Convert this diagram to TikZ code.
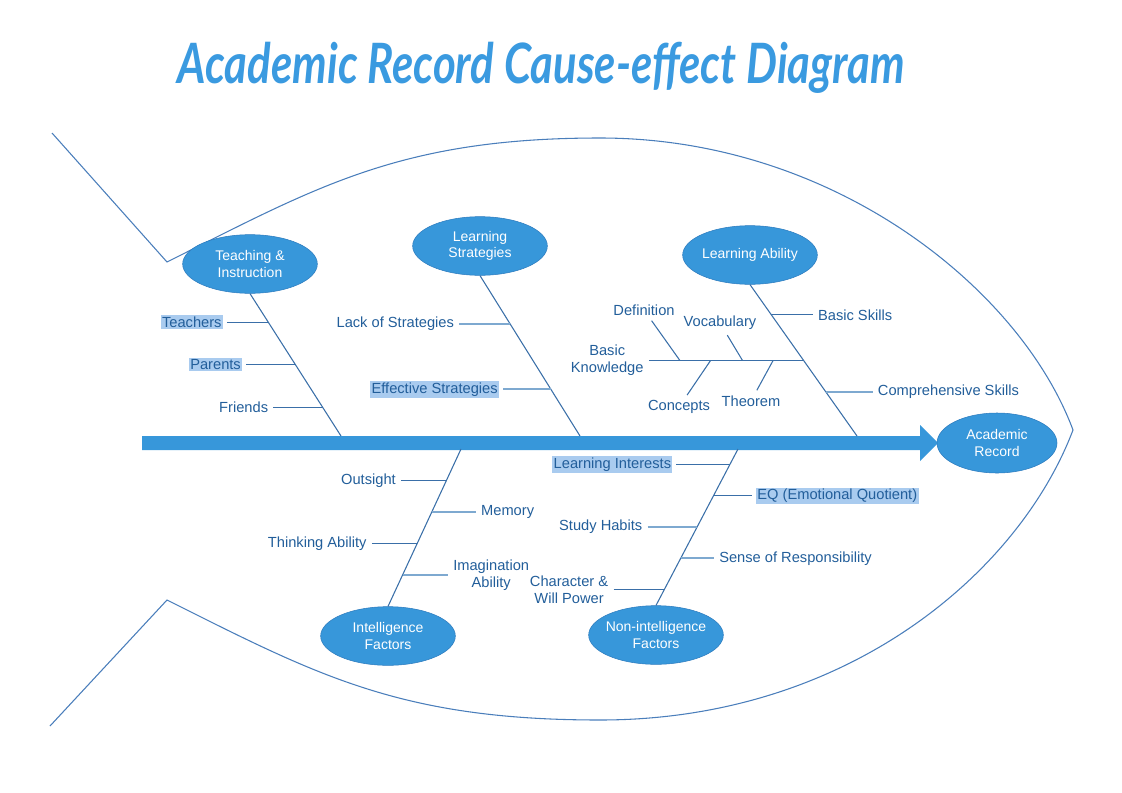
\documentclass[tikz,border=0pt]{standalone}
\usepackage{graphicx}
\usepackage{fontspec}
\setmainfont{Liberation Sans}
\newfontfamily\titlefont{Lato}
\usetikzlibrary{positioning,shapes.geometric}

\definecolor{ellfill}{HTML}{3797DA}
\definecolor{ellborder}{HTML}{2C7BBE}
\definecolor{fishline}{HTML}{4A7EBB}
\definecolor{boneline}{HTML}{3A6FA8}
\definecolor{paleline}{HTML}{7EA9D0}
\definecolor{labeltext}{HTML}{225E9A}
\definecolor{marker}{HTML}{A9CBEF}
\definecolor{titleblue}{HTML}{3A9AE0}

\newcommand\labelsize{\fontsize{11}{13}\selectfont}
\newcommand\catsize{\fontsize{10.5}{12.5}\selectfont}

\tikzset{
  category/.style={ellipse, draw=ellborder, fill=ellfill, text=white, font=\catsize,
    align=center, minimum width=101pt, minimum height=44pt, inner xsep=-2pt, inner ysep=0pt},
  cause/.style={text=labeltext, font=\labelsize, inner sep=1pt, outer sep=3pt, align=center},
  marked/.style={cause, fill=marker},
  bone/.style={draw=boneline, line width=0.8pt},
  twig/.style={draw=boneline, line width=0.8pt},
  pale twig/.style={draw=paleline, line width=1.5pt},
}

\begin{document}
\begin{tikzpicture}[x=0.75pt, y=-0.75pt]
  \useasboundingbox (0,0) rectangle (1122,793);

  % title
  \node[anchor=base, text=titleblue] (title) at (541,83)
    {\titlefont\bfseries\itshape\resizebox{545pt}{31pt}{Academic Record Cause-effect Diagram}};

  % fish outline: tail and body
  \draw[fishline, line width=0.8pt] (52,133) -- (167,262)
    .. controls (317,187) and (400,138) .. (600,138)
    .. controls (835,138) and (1021,290) .. (1073,430)
    .. controls (1020,570) and (850,720) .. (600,720)
    .. controls (400,720) and (317,675) .. (167,600) -- (50,726);

  % spine with head
  \fill[ellfill] (142,436) -- (920,436) -- (920,425) -- (938,443) -- (920,461)
    -- (920,450) -- (142,450) -- cycle;
  \node[category, minimum width=90pt, minimum height=45pt] (record) at (997,443) {Academic\\Record};

  % ends of the bones on the spine
  \coordinate (teach_end) at (341,436);
  \coordinate (strat_end) at (580,436);
  \coordinate (ability_end) at (857,436);
  \coordinate (intel_end) at (461,449);
  \coordinate (nonint_end) at (738,449);

  % categories
  \node[category] (teach) at (250,264) {Teaching \&\\Instruction};
  \node[category] (strat) at (480,246) {Learning\\Strategies};
  \node[category] (ability) at (750,255) {Learning Ability};
  \node[category] (intel) at (388,636) {Intelligence\\Factors};
  \node[category] (nonint) at (656,635) {Non-intelligence\\Factors};

  % bones
  \draw[bone] (teach.south) -- coordinate[pos=0.2] (teach_1) coordinate[pos=0.5] (teach_2)
    coordinate[pos=0.8] (teach_3) (teach_end);
  \draw[bone] (strat.south) -- coordinate[pos=0.3] (strat_1) coordinate[pos=0.71] (strat_2) (strat_end);
  \draw[bone] (ability.south) -- coordinate[pos=0.2] (ability_1) coordinate[pos=0.5] (ability_2)
    coordinate[pos=0.71] (ability_3) (ability_end);
  \draw[bone] (intel.north) -- coordinate[pos=0.2] (intel_1) coordinate[pos=0.4] (intel_2)
    coordinate[pos=0.6] (intel_3) coordinate[pos=0.8] (intel_4) (intel_end);
  \draw[bone] (nonint.north) -- coordinate[pos=0.1] (nonint_1) coordinate[pos=0.3] (nonint_2)
    coordinate[pos=0.5] (nonint_3) coordinate[pos=0.7] (nonint_4) coordinate[pos=0.9] (nonint_5) (nonint_end);

  % teaching & instruction
  \node[marked, left=31pt of teach_1] (teachers) {Teachers};
  \node[marked, left=37pt of teach_2] (parents) {Parents};
  \node[cause, left=37pt of teach_3] (friends) {Friends};
  \draw[twig] (teachers) -- (teach_1);
  \draw[twig] (parents) -- (teach_2);
  \draw[twig] (friends) -- (teach_3);

  % learning strategies
  \node[cause, left=38pt of strat_1] (lack) {Lack of Strategies};
  \node[marked, left=36pt of strat_2] (effective) {Effective Strategies};
  \draw[pale twig] (lack) -- (strat_1);
  \draw[pale twig] (effective) -- (strat_2);

  % learning ability
  \node[cause, right=31pt of ability_1] (basic_skills) {Basic Skills};
  \node[cause, left=116pt of ability_2] (knowledge) {Basic\\Knowledge};
  \node[cause, right=35pt of ability_3] (compr_skills) {Comprehensive Skills};
  \draw[twig] (ability_1) -- (basic_skills);
  \draw[pale twig] (ability_3) -- (compr_skills);
  \draw[twig] (knowledge) -- coordinate[pos=0.2] (know_1) coordinate[pos=0.4] (know_2)
    coordinate[pos=0.605] (know_3) coordinate[pos=0.804] (know_4) (ability_2);

  % basic knowledge details
  \node[cause] (definition) at (644,310) {Definition};
  \node[cause] (concepts) at (679,407) {Concepts};
  \node[cause] (vocabulary) at (720,323) {Vocabulary};
  \node[cause] (theorem) at (751,401) {Theorem};
  \draw[twig] (definition) -- (know_1);
  \draw[twig] (concepts) -- (know_2);
  \draw[twig] (vocabulary) -- (know_3);
  \draw[twig] (theorem) -- (know_4);

  % intelligence factors
  \node[cause, right=34pt of intel_1] (imagination) {Imagination\\Ability};
  \node[cause, left=34pt of intel_2] (thinking) {Thinking Ability};
  \node[cause, right=33pt of intel_3] (memory) {Memory};
  \node[cause, left=34pt of intel_4] (outsight) {Outsight};
  \draw[pale twig] (intel_1) -- (imagination);
  \draw[twig] (thinking) -- (intel_2);
  \draw[pale twig] (intel_3) -- (memory);
  \draw[twig] (outsight) -- (intel_4);

  % non-intelligence factors
  \node[cause, left=38pt of nonint_1] (character) {Character \&\\Will Power};
  \node[cause, right=25pt of nonint_2] (responsibility) {Sense of Responsibility};
  \node[cause, left=37pt of nonint_3] (habits) {Study Habits};
  \node[marked, right=29pt of nonint_4] (eq) {EQ (Emotional Quotient)};
  \node[marked, left=40pt of nonint_5] (interests) {Learning Interests};
  \draw[twig] (character) -- (nonint_1);
  \draw[pale twig] (nonint_2) -- (responsibility);
  \draw[pale twig] (habits) -- (nonint_3);
  \draw[twig] (nonint_4) -- (eq);
  \draw[twig] (interests) -- (nonint_5);
\end{tikzpicture}
\end{document}
